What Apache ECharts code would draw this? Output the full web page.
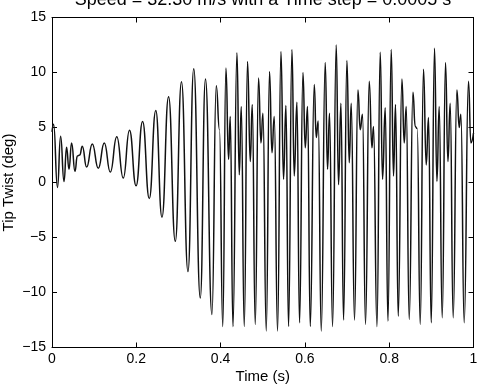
<!DOCTYPE html>
<html lang="en">
<head>
    <meta charset="UTF-8">
    <title>Tip Twist</title>
    <script src="https://cdn.jsdelivr.net/npm/echarts@6/dist/echarts.min.js"></script>
    <style>
        html, body { margin: 0; padding: 0; background: #fff; }
        #chart { width: 479px; height: 384px; }
    </style>
</head>
<body>
<div id="chart"></div>
<script>
    // peaks / troughs (time in s, twist in deg)
    var time = [
        0, 0.0038, 0.0130, 0.0204, 0.0285, 0.0346, 0.0403, 0.0465, 0.0546, 0.0600,
        0.0659, 0.0719, 0.0821, 0.0956, 0.1098, 0.1241, 0.1383, 0.1537, 0.1691, 0.1838,
        0.1995, 0.2149, 0.2308, 0.2462, 0.2609, 0.2766, 0.2925, 0.3072, 0.3226, 0.3363,
        0.3518, 0.3641, 0.3795, 0.3897, 0.3973, 0.4051, 0.4127, 0.4189, 0.4229, 0.4293,
        0.4388, 0.4443, 0.4490, 0.4561, 0.4639, 0.4704, 0.4751, 0.4822, 0.4900, 0.4957,
        0.5005, 0.5083, 0.5161, 0.5218, 0.5273, 0.5351, 0.5432, 0.5493, 0.5550, 0.5612,
        0.5693, 0.5747, 0.5811, 0.5873, 0.5954, 0.6008, 0.6063, 0.6127, 0.6222, 0.6269,
        0.6316, 0.6388, 0.6482, 0.6537, 0.6584, 0.6656, 0.6743, 0.6798, 0.6855, 0.6917,
        0.6997, 0.7052, 0.7099, 0.7177, 0.7258, 0.7313, 0.7367, 0.7438, 0.7526, 0.7590,
        0.7628, 0.7709, 0.7787, 0.7842, 0.7906, 0.7970, 0.8048, 0.8102, 0.8150, 0.8214,
        0.8302, 0.8356, 0.8404, 0.8475, 0.8563, 0.8617, 0.8665, 0.8736, 0.8814, 0.8878,
        0.8933, 0.8997, 0.9075, 0.9132, 0.9186, 0.9258, 0.9336, 0.9393, 0.9447, 0.9518,
        0.9606, 0.9661, 0.9701, 0.9779, 0.9881, 0.9938, 1.0
    ];
    var twist = [
        4.6, 5.3, -0.45, 4.2, 0.1, 3.2, 1.2, 3.6, 1.0, 2.4,
        2.5, 3.3, 1.4, 3.5, 1.3, 3.6, 0.95, 4.15, 0.4, 4.75,
        -0.3, 5.55, -1.45, 6.55, -3.15, 7.8, -5.35, 9.15, -8.1, 10.35,
        -10.5, 9.4, -12.0, 8.8, 4.8, -13.1, 10.4, 2.1, 6.0, -13.1,
        11.8, 0.7, 6.9, -13.1, 11.0, 1.9, 7.1, -12.9, 9.5, 3.6,
        6.3, -13.5, 10.1, 2.7, 6.0, -13.5, 11.9, 0.3, 7.0, -13.1,
        12.1, 0.6, 7.3, -12.75, 10.0, 3.15, 6.9, -13.1, 8.9, 4.1,
        5.6, -13.5, 10.9, 1.2, 6.3, -13.1, 12.5, -0.2, 7.2, -12.5,
        11.1, 1.8, 7.2, -12.5, 8.4, 4.8, 6.2, -12.9, 9.2, 3.15,
        5.1, -13.1, 11.85, 0.3, 6.8, -12.6, 12.1, 0.6, 7.1, -12.15,
        9.4, 3.6, 6.9, -12.45, 8.2, 5.1, 4.9, -12.9, 10.3, 1.6,
        5.9, -12.75, 12.2, 0.1, 6.9, -12.3, 10.9, 1.9, 7.2, -12.3,
        8.4, 5.0, 6.2, -12.75, 9.2, 3.6, 4.5
    ];
    var xRange = [0, 1, 0.2];
    var yRange = [-15, 15, 5];

    var font = 'Liberation Sans, Arial, Helvetica, sans-serif';
    var chart = echarts.init(document.getElementById('chart'));

    function minus(v) {
        return v < 0 ? '\u2212' + (-v) : String(v);
    }

    var points = [];
    for (var i = 0; i < time.length; i++) {
        points.push([time[i], twist[i]]);
    }

    var boxLine = { show: true, onZero: false, lineStyle: { color: '#000', width: 1 } };
    var inTicks = { show: true, inside: true, length: 5, lineStyle: { color: '#000' } };

    chart.setOption({
        animation: false,
        title: {
            text: 'Speed = 32.30 m/s with a Time step = 0.0005 s',
            left: 258,
            top: -14,
            textAlign: 'center',
            textStyle: { fontFamily: font, fontSize: 18, fontWeight: 'normal', color: '#000' }
        },
        grid: { left: 52, right: 5.5, top: 17.5, bottom: 36.5, containLabel: false, outerBoundsMode: 'none' },
        xAxis: [{
            type: 'value',
            min: xRange[0], max: xRange[1], interval: xRange[2],
            name: 'Time (s)',
            nameLocation: 'middle',
            nameGap: 22,
            nameMoveOverlap: false,
            nameTextStyle: { fontFamily: font, fontSize: 15, color: '#000' },
            axisLine: boxLine,
            axisTick: inTicks,
            axisLabel: { margin: 5, fontFamily: font, fontSize: 14, color: '#000' },
            splitLine: { show: false }
        }, {
            type: 'value',
            position: 'top',
            min: xRange[0], max: xRange[1], interval: xRange[2],
            axisLine: boxLine,
            axisTick: inTicks,
            axisLabel: { show: false },
            splitLine: { show: false }
        }],
        yAxis: [{
            type: 'value',
            min: yRange[0], max: yRange[1], interval: yRange[2],
            name: 'Tip Twist (deg)',
            nameLocation: 'middle',
            nameGap: 36,
            nameMoveOverlap: false,
            nameTextStyle: { fontFamily: font, fontSize: 15, color: '#000' },
            axisLine: boxLine,
            axisTick: inTicks,
            axisLabel: { margin: 6, fontFamily: font, fontSize: 14, color: '#000', formatter: minus },
            splitLine: { show: false }
        }, {
            type: 'value',
            position: 'right',
            min: yRange[0], max: yRange[1], interval: yRange[2],
            axisLine: boxLine,
            axisTick: inTicks,
            axisLabel: { show: false },
            splitLine: { show: false }
        }],
        series: [{
            type: 'line',
            data: points,
            showSymbol: false,
            smooth: 0.5,
            smoothMonotone: 'x',
            lineStyle: { color: '#111', width: 1.5 }
        }]
    });
</script>
</body>
</html>
